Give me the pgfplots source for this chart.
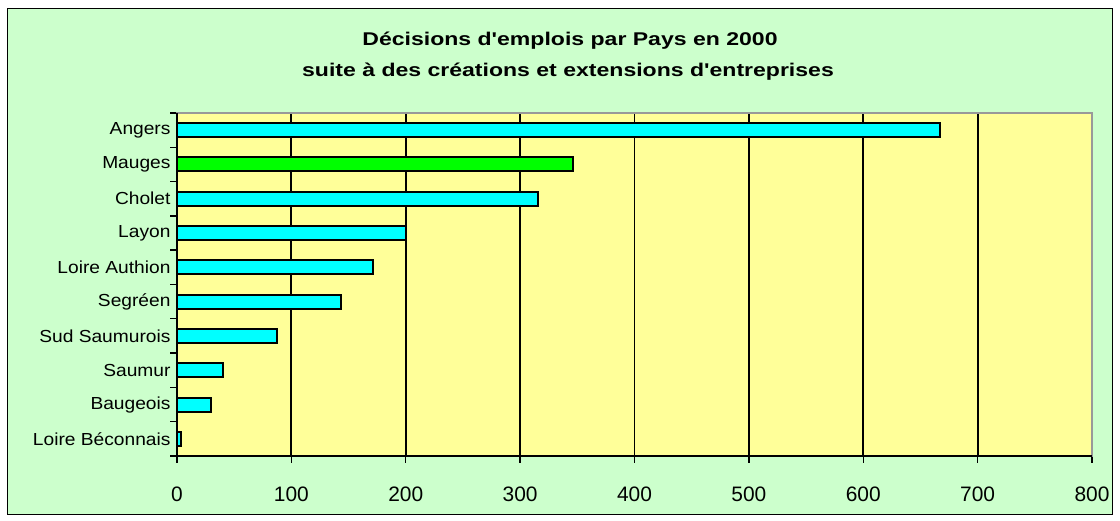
\documentclass[border=0pt]{standalone}
\usepackage{fontspec}
\setmainfont[FakeStretch=1.1]{Liberation Sans}
\newfontfamily\titlefont[FakeStretch=1.25]{Liberation Sans}
\newfontfamily\numfont{Liberation Sans}
\usepackage{pgfplots}
\usepackage{pgfplotstable}
\pgfplotsset{compat=1.18}
\definecolor{outerbg}{RGB}{204,255,204}
\definecolor{plotbg}{RGB}{255,255,153}
\definecolor{barcyan}{RGB}{0,255,255}
\definecolor{bargreen}{RGB}{0,255,0}
\pgfplotstableread{
idx value
0 667
2 316
3 200
4 171
5 143
6 87
7 40
8 30
9 3.5
}\cyandata
\pgfplotstableread{
idx value
1 346
}\greendata
\begin{document}
\begin{tikzpicture}[x=1bp,y=1bp]
\fill[white] (0,0) rectangle (1120,521);
\filldraw[fill=outerbg, draw=black, line width=1.6bp] (7.5,6.5) rectangle (1112.5,512.5);
\node[anchor=base, font={\titlefont\bfseries\fontsize{18.5}{21}\selectfont}] at (570,475) {Décisions d'emplois par Pays en 2000};
\node[anchor=base, font={\titlefont\bfseries\fontsize{18.5}{21}\selectfont}] at (568,444) {suite à des créations et extensions d'entreprises};
\begin{axis}[
  at={(177bp,65bp)}, anchor=south west,
  scale only axis, width=915bp, height=343bp,
  xmin=0, xmax=800, ymin=-0.5, ymax=9.5, y dir=reverse,
  xtick={0,100,...,800},
  ytick={-0.5,0.5,...,9.5}, yticklabels={},
  extra y ticks={0,1,...,9},
  extra y tick labels={Angers,Mauges,Cholet,Layon,Loire Authion,Segréen,Sud Saumurois,Saumur,Baugeois,Loire Béconnais},
  extra y tick style={major tick length=0pt, yticklabel style={xshift=-3bp}},
  xmajorgrids, major grid style={black, line width=1.8bp},
  axis background/.style={fill=plotbg},
  axis line style={gray!80, line width=1.2bp},
  tick style={black, line width=1.4bp},
  tick align=outside, xtick pos=lower, ytick pos=left,
  major tick length=7bp,
  yticklabel style={font=\fontsize{17.5}{20}\selectfont},
  xticklabel style={font=\numfont\fontsize{21}{24}\selectfont, yshift=-20bp},
  /pgf/number format/assume math mode=true,
  clip=false,
]
\addplot[xbar, bar width=14bp, bar shift=0pt, fill=barcyan, draw=black, line width=2bp] table[x=value, y=idx] {\cyandata};
\addplot[xbar, bar width=14bp, bar shift=0pt, fill=bargreen, draw=black, line width=2bp] table[x=value, y=idx] {\greendata};
\draw[black, line width=1.8bp] (axis cs:0,-0.5) -- (axis cs:0,9.5) -- (axis cs:800,9.5);
\end{axis}
\end{tikzpicture}
\end{document}
